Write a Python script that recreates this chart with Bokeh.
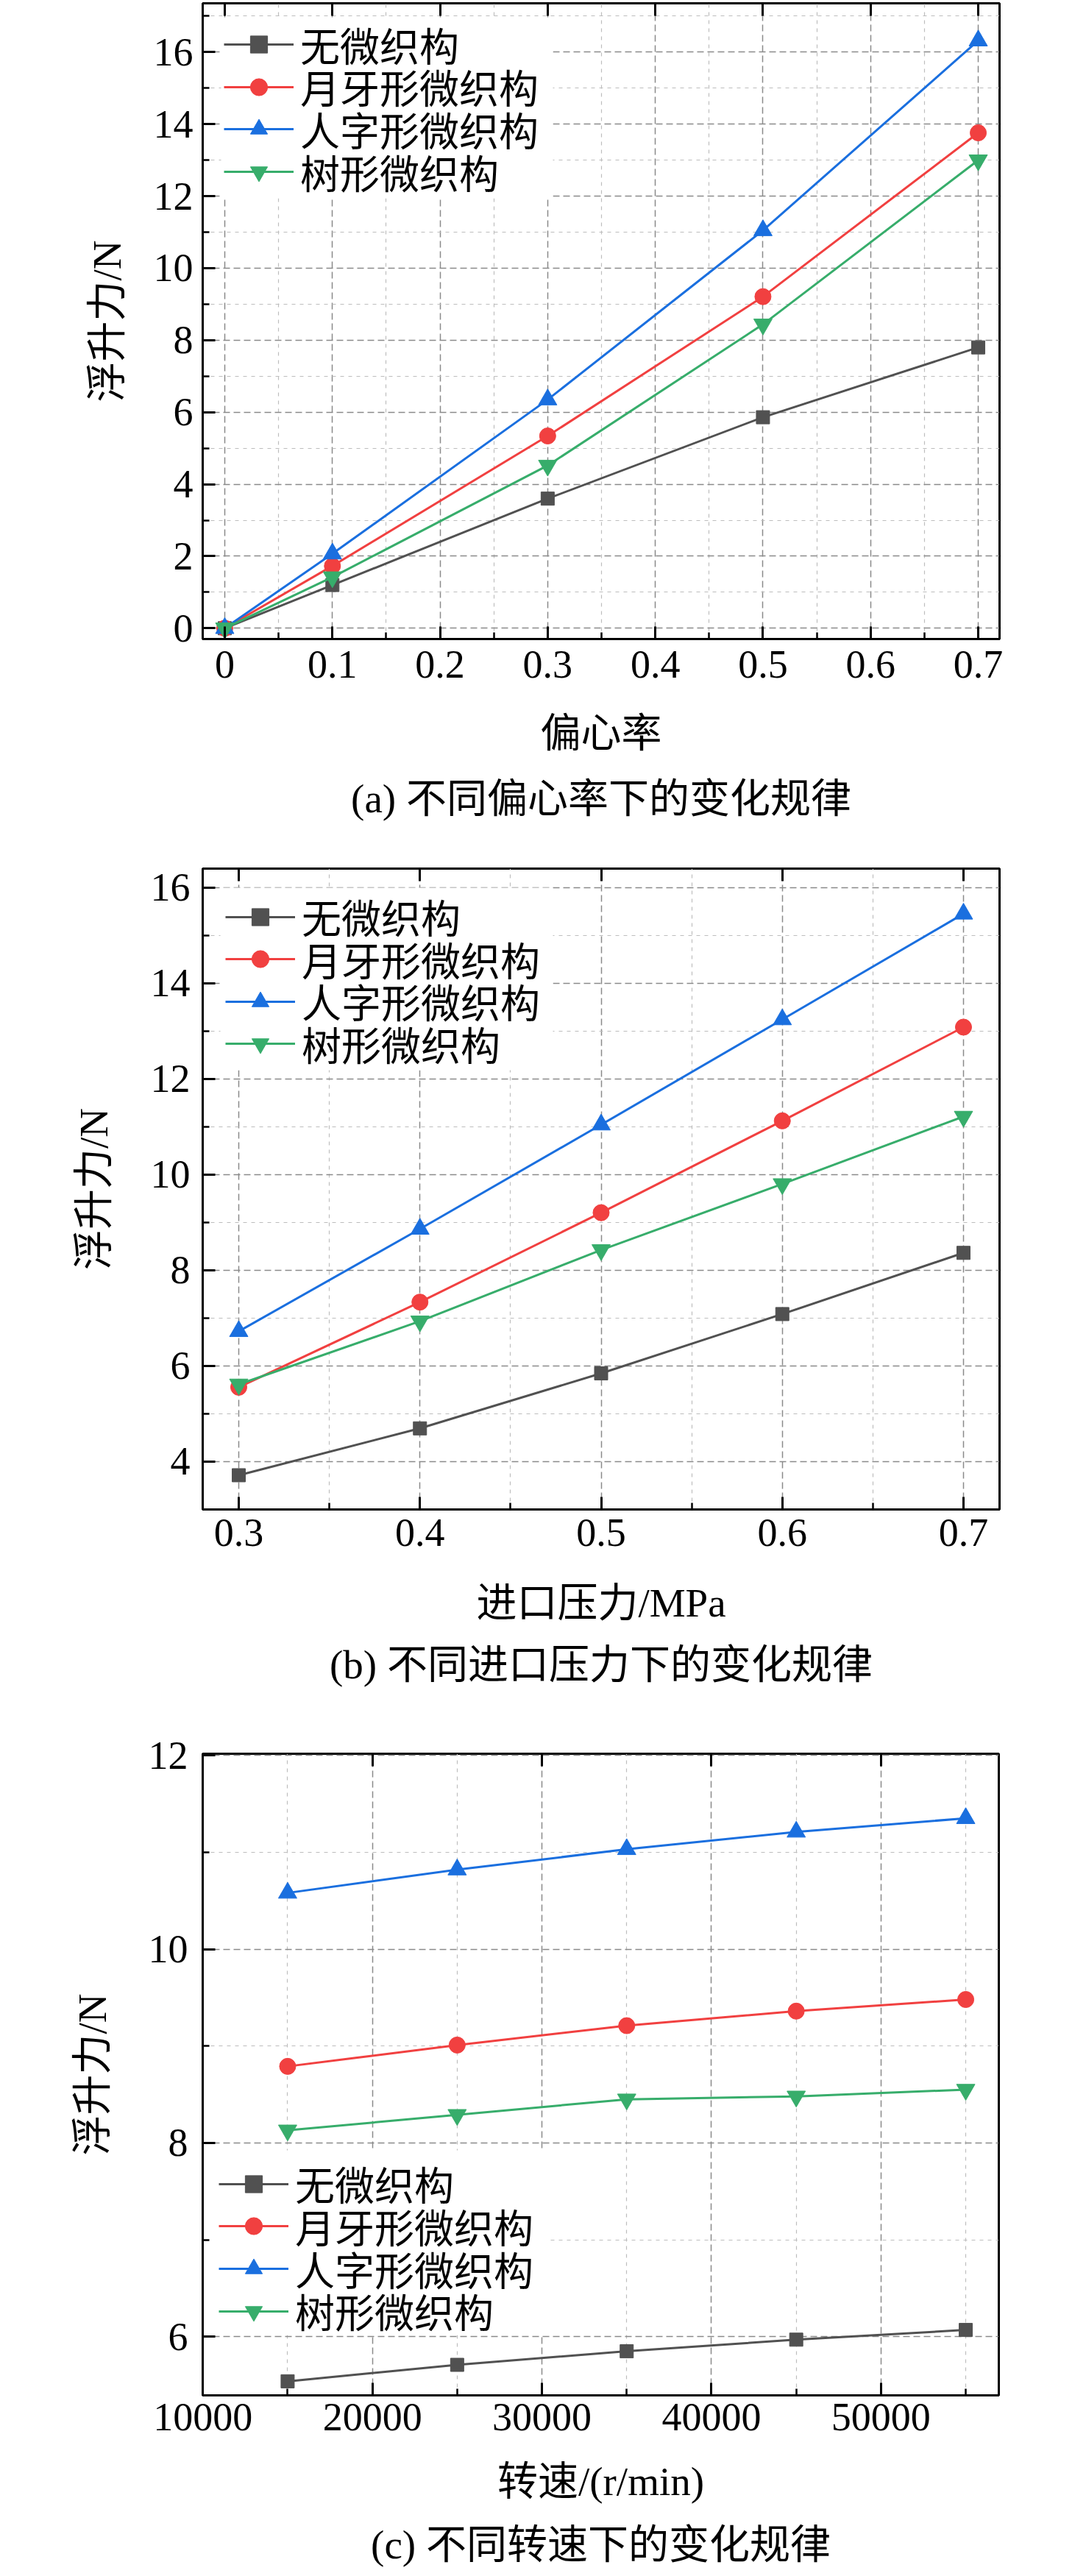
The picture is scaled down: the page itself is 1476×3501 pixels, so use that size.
from bokeh.plotting import figure
from bokeh.models import (FixedTicker, LinearAxis, Legend, LegendItem, Title,
                          Range1d, NumeralTickFormatter, BoxAnnotation)
from bokeh.layouts import column
from bokeh.embed import file_html
from bokeh.resources import INLINE

# ---------------- data ----------------
SERIES_NAMES = ["无微织构", "月牙形微织构", "人字形微织构", "树形微织构"]

# (a) eccentricity
ecc_x = [0, 0.1, 0.3, 0.5, 0.7]
ecc_none = [0, 1.2, 3.6, 5.86, 7.8]
ecc_crescent = [0, 1.73, 5.34, 9.21, 13.76]
ecc_herring = [0, 2.07, 6.35, 11.05, 16.32]
ecc_tree = [0, 1.42, 4.52, 8.44, 13.0]

# (b) inlet pressure (MPa)
prs_x = [0.3, 0.4, 0.5, 0.6, 0.7]
prs_none = [3.71, 4.69, 5.84, 7.08, 8.36]
prs_crescent = [5.55, 7.33, 9.20, 11.12, 13.08]
prs_herring = [6.72, 8.86, 11.04, 13.24, 15.45]
prs_tree = [5.61, 6.93, 8.42, 9.80, 11.21]

# (c) rotational speed (r/min)
spd_x = [15000, 25000, 35000, 45000, 55000]
spd_none = [5.54, 5.71, 5.85, 5.97, 6.07]
spd_crescent = [8.79, 9.01, 9.21, 9.36, 9.48]
spd_herring = [10.58, 10.82, 11.03, 11.21, 11.35]
spd_tree = [8.13, 8.29, 8.45, 8.48, 8.55]

# tick positions
a_xticks = [0, 0.1, 0.2, 0.3, 0.4, 0.5, 0.6, 0.7]
a_xminor = [0.05, 0.15, 0.25, 0.35, 0.45, 0.55, 0.65]
a_yticks = [0, 2, 4, 6, 8, 10, 12, 14, 16]
a_yminor = [1, 3, 5, 7, 9, 11, 13, 15, 17]

b_xticks = [0.3, 0.4, 0.5, 0.6, 0.7]
b_xminor = [0.35, 0.45, 0.55, 0.65]
b_yticks = [4, 6, 8, 10, 12, 14, 16]
b_yminor = [3, 5, 7, 9, 11, 13, 15]

c_xticks = [10000, 20000, 30000, 40000, 50000]
c_xminor = [15000, 25000, 35000, 45000, 55000]
c_yticks = [6, 8, 10, 12]
c_yminor = [7, 9, 11]

# ---------------- style ----------------
COLORS = ["#515151", "#F14040", "#1A6FDF", "#37AD6B"]
MARKERS = ["square", "circle", "triangle", "inverted_triangle"]
MSIZES = [18, 22, 25, 25]
NUM_FONT = "Liberation Serif"
MIX_FONT = "Liberation Serif, Noto Sans CJK SC"
LEG_ITEM_H = 82   # measured height of one legend entry box


def make_panel(x, series, xr, yr, xt, xm, yt, ym, xlabel, caption, frame,
               borders, leg_box, leg_x, leg_rows, stand, xfmt=None, xover=None):
    bl, br, bt, bb = borders
    fw, fh = frame
    p = figure(frame_width=fw, frame_height=fh, output_backend="svg",
               toolbar_location=None, x_range=Range1d(*xr), y_range=Range1d(*yr),
               min_border_left=bl, min_border_right=br, min_border_top=bt,
               min_border_bottom=bb)
    p.outline_line_color = "black"
    p.outline_line_width = 3
    p.background_fill_color = "white"
    p.border_fill_color = "white"

    xtick = FixedTicker(ticks=xt, minor_ticks=xm)
    ytick = FixedTicker(ticks=yt, minor_ticks=ym)
    p.xaxis.ticker = xtick
    p.xgrid.ticker = xtick
    p.yaxis.ticker = ytick
    p.ygrid.ticker = ytick
    if xfmt is not None:
        p.xaxis.formatter = xfmt
    if xover is not None:
        p.xaxis.major_label_overrides = xover

    for ax in (p.xaxis[0], p.yaxis[0]):
        ax.axis_line_width = 3
        ax.axis_line_color = "black"
        ax.major_tick_in = 17
        ax.major_tick_out = 0
        ax.minor_tick_in = 9
        ax.minor_tick_out = 0
        ax.major_tick_line_width = 3
        ax.minor_tick_line_width = 2.5
        ax.major_label_text_font = NUM_FONT
        ax.major_label_text_font_size = "54px"
        ax.major_label_text_color = "black"
        ax.axis_label_text_font = MIX_FONT
        ax.axis_label_text_font_size = "55px"
        ax.axis_label_text_font_style = "normal"
        ax.axis_label_text_color = "black"

    xs_lab, ys_lab, xs_ax, ys_ax, t_std = stand
    p.xaxis.major_label_standoff = xs_lab
    p.yaxis.major_label_standoff = ys_lab
    p.xaxis.axis_label_standoff = xs_ax
    p.yaxis.axis_label_standoff = ys_ax
    p.xaxis.axis_label = xlabel
    p.yaxis.axis_label = "浮升力/N"

    top = LinearAxis(ticker=xtick, major_label_text_font_size="1px",
                     major_label_overrides={t: "" for t in xt},
                     major_label_standoff=0, major_tick_in=17, major_tick_out=0,
                     major_tick_line_width=3, minor_tick_line_color=None,
                     axis_line_color=None)
    p.add_layout(top, "above")

    for g in (p.xgrid[0], p.ygrid[0]):
        g.grid_line_color = "#8a8a8a"
        g.grid_line_dash = "9 5"
        g.grid_line_width = 1.5
        g.minor_grid_line_color = "#bdbdbd"
        g.minor_grid_line_dash = "5 6"
        g.minor_grid_line_width = 1.2

    items = []
    for name, ys, c, m, s in zip(SERIES_NAMES, series, COLORS, MARKERS, MSIZES):
        lr = p.line(x, ys, line_color=c, line_width=3)
        sr = p.scatter(x, ys, marker=m, size=s, fill_color=c, line_color=c,
                       line_width=1)
        items.append(LegendItem(label=name, renderers=[lr, sr]))

    # white legend background (frame-relative screen units)
    l, r, b, t = leg_box
    p.add_layout(BoxAnnotation(left=l, right=r, bottom=b, top=t,
                               left_units="screen", right_units="screen",
                               bottom_units="screen", top_units="screen",
                               fill_color="white", fill_alpha=1.0,
                               line_color=None))

    # one legend per entry so the rows sit as close as in the original
    for item, row_c in zip(items, leg_rows):
        leg = Legend(items=[item], location=(leg_x, row_c - LEG_ITEM_H / 2),
                     label_text_font=MIX_FONT, label_text_font_size="54px",
                     label_text_color="black", glyph_width=95, glyph_height=58,
                     label_height=58, spacing=0, padding=0, margin=0,
                     label_standoff=9, border_line_color=None,
                     background_fill_alpha=0.0)
        p.add_layout(leg)

    p.add_layout(Title(text=caption, align="center", text_font=MIX_FONT,
                       text_font_size="55px", text_font_style="normal",
                       text_color="black", standoff=t_std), "below")
    return p


# legend row centres, measured up from the frame bottom (px)
a_rows = [809.5, 751.8, 694.1, 636.4]
b_rows = [806.7, 749.2, 691.7, 634.2]
c_rows = [289.0, 231.2, 173.4, 115.6]

pa = make_panel(ecc_x, [ecc_none, ecc_crescent, ecc_herring, ecc_tree],
                (-0.0205, 0.7198), (-0.300, 17.357), a_xticks, a_xminor,
                a_yticks, a_yminor, "偏心率", "(a) 不同偏心率下的变化规律",
                (1083, 864), (256, 81, 0, 278), (25, 476, 599, 845), 29, a_rows,
                (16, 13, 42, 30, 46), xover={0: "0"})

pb = make_panel(prs_x, [prs_none, prs_crescent, prs_herring, prs_tree],
                (0.2801, 0.7199), (2.994, 16.395), b_xticks, b_xminor,
                b_yticks, b_yminor, "进口压力/MPa", "(b) 不同进口压力下的变化规律",
                (1083, 871), (270, 67, 34, 280), (24, 476, 597, 845), 31, b_rows,
                (13, 17, 44, 44, 36))

pc = make_panel(spd_x, [spd_none, spd_crescent, spd_herring, spd_tree],
                (9990, 56950), (5.395, 12.016), c_xticks, c_xminor,
                c_yticks, c_yminor, "转速/(r/min)", "(c) 不同转速下的变化规律",
                (1082, 872), (275, 63, 52, 240), (10, 470, 82, 333), 22, c_rows,
                (11, 20, 36, 43, 40), xfmt=NumeralTickFormatter(format="0"))

layout = column(pa, pb, pc, spacing=0)
open("out.html", "w").write(file_html(layout, INLINE))
